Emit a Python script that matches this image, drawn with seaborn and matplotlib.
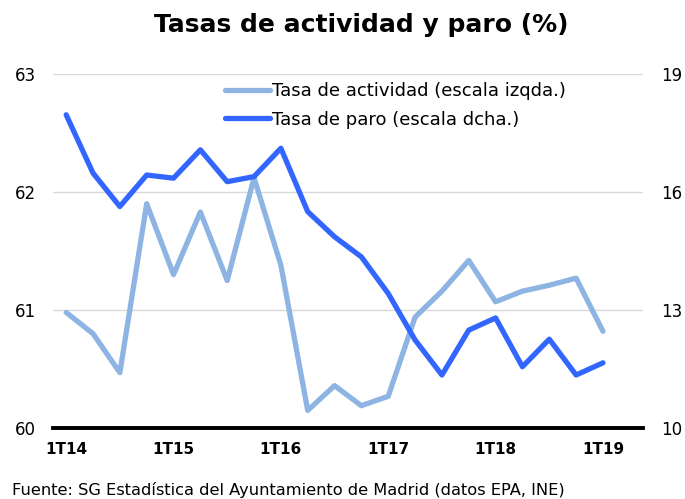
import matplotlib.pyplot as plt
from matplotlib.lines import Line2D

import seaborn as sns


sns.set_theme(style="white")
plt.rcParams["font.family"] = ["DejaVu Sans"]
plt.rcParams["text.color"] = "black"

LIGHT = "#8DB4E2"
DARK = "#3366FF"

quarters = [
    "1T14", "2T14", "3T14", "4T14",
    "1T15", "2T15", "3T15", "4T15",
    "1T16", "2T16", "3T16", "4T16",
    "1T17", "2T17", "3T17", "4T17",
    "1T18", "2T18", "3T18", "4T18",
    "1T19",
]
actividad = [
    60.98, 60.80, 60.47, 61.90, 61.30, 61.83, 61.25, 62.12,
    61.38, 60.15, 60.36, 60.19, 60.27, 60.94, 61.16, 61.42,
    61.07, 61.16, 61.21, 61.27, 60.82,
]
paro = [
    17.96, 16.48, 15.63, 16.43, 16.35, 17.07, 16.26, 16.39,
    17.11, 15.50, 14.86, 14.35, 13.42, 12.24, 11.35, 12.49,
    12.80, 11.56, 12.26, 11.35, 11.66,
]
label_actividad = "Tasa de actividad (escala izqda.)"
label_paro = "Tasa de paro (escala dcha.)"


fig, ax = plt.subplots(figsize=(6.85, 4.99), dpi=100)
fig.subplots_adjust(left=0.077, right=0.939, top=0.852, bottom=0.142)

sns.lineplot(x=quarters, y=actividad, color=LIGHT, linewidth=3.8, ax=ax,
             solid_joinstyle="round", solid_capstyle="round")
ax2 = ax.twinx()
sns.lineplot(x=quarters, y=paro, color=DARK, linewidth=3.8, ax=ax2,
             solid_joinstyle="round", solid_capstyle="round")

ax.set_xlim(-0.5, 21.5)
ax.set_ylim(60, 63)
ax2.set_ylim(10, 19)
ax.set_yticks([60, 61, 62, 63])
ax2.set_yticks([10, 13, 16, 19])
ax.set_xticks(range(0, len(quarters), 4))
ax.set_xticklabels(quarters[::4], fontweight="bold", fontsize=11)
ax.set(xlabel="", ylabel="")
ax2.set(xlabel="", ylabel="")

ax.yaxis.grid(True, color="#D9D9D9", linewidth=1)
ax.set_axisbelow(True)
for a in (ax, ax2):
    for side in ("top", "left", "right"):
        a.spines[side].set_visible(False)
    a.spines["bottom"].set_color("black")
    a.spines["bottom"].set_linewidth(2.6)
    a.tick_params(length=0)
ax.tick_params(axis="y", labelsize=12, pad=12, colors="black")
ax2.tick_params(axis="y", labelsize=12, pad=13, colors="black")
ax.tick_params(axis="x", pad=10, colors="black")

handles = [
    Line2D([], [], color=LIGHT, linewidth=3.8, solid_capstyle="round"),
    Line2D([], [], color=DARK, linewidth=3.8, solid_capstyle="round"),
]
ax2.legend(handles, [label_actividad, label_paro], loc="upper left",
           bbox_to_anchor=(0.27, 1.012), frameon=False, fontsize=13,
           handlelength=2.5, handletextpad=0.1, labelspacing=0.58,
           borderaxespad=0.3)

fig.text(0.528, 0.95, "Tasas de actividad y paro (%)", ha="center", va="center",
         fontsize=18, fontweight="bold")
fig.text(0.017, 0.018, "Fuente: SG Estadística del Ayuntamiento de Madrid (datos EPA, INE)",
         ha="left", va="center", fontsize=11.7)

fig.savefig("out.png", dpi=100)
